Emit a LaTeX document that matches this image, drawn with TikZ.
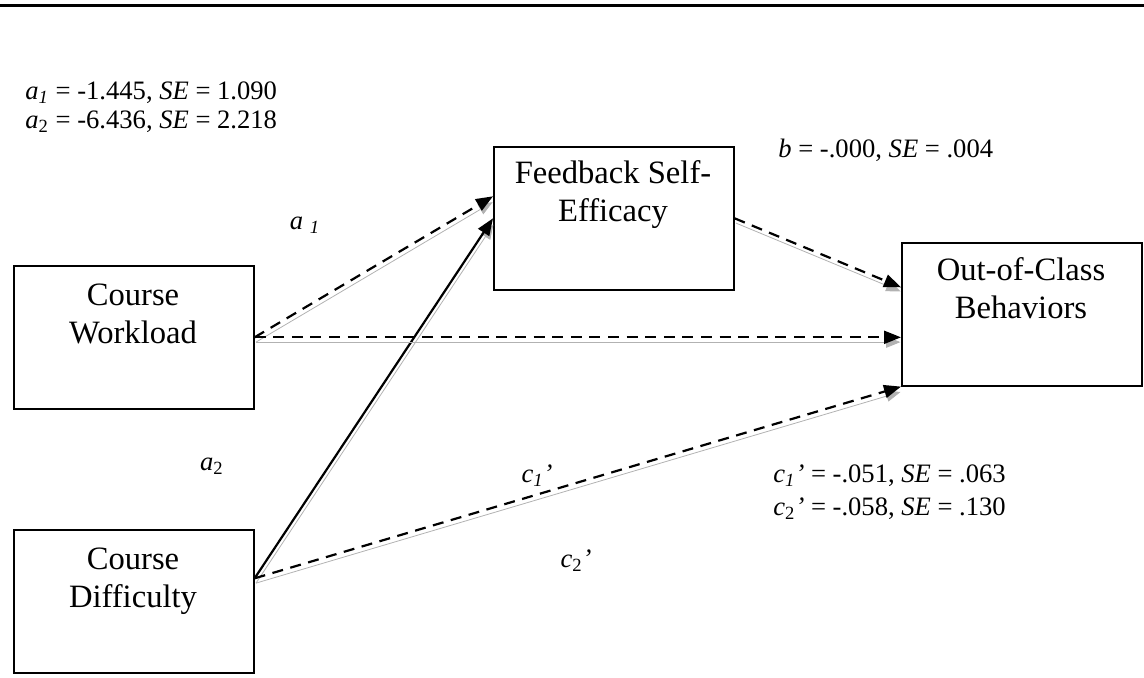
\documentclass[tikz,border=0pt]{standalone}
\usepackage{fontspec}
\setmainfont{Liberation Serif}
\usetikzlibrary{arrows.meta}

\begin{document}
\begin{tikzpicture}[x=0.5pt,y=-0.5pt,
  box/.style={draw=black, line width=0.8pt, minimum width=120pt,
    minimum height=71.5pt, inner sep=0pt, anchor=north west},
  boxtext/.style={align=center, font=\fontsize{16.3}{19}\selectfont,
    inner sep=0pt, anchor=base},
  stat/.style={font=\fontsize{13.3}{14.5}\selectfont, inner sep=0pt,
    anchor=base west},
  pathlbl/.style={font=\fontsize{13.3}{14.5}\selectfont, inner sep=0pt,
    anchor=base},
  shadowed/.style={preaction={draw=black!30,
    transform canvas={shift={(0.7pt,-2.4pt)}}}},
  link/.style={line width=1.1pt, shadowed,
    -{Triangle[length=8.5pt,width=6.5pt]}},
  dashlink/.style={link, dash pattern=on 5.5pt off 3.8pt}
]
\useasboundingbox (0,0) rectangle (1144,677);

% rule across the top
\draw[line width=1.5pt] (0,5.5) -- (1144,5.5);

% variable boxes
\node[box] (wl) at (13,265) {};
\node[box] (dif) at (13,529) {};
\node[box] (fb) at (493,146) {};
\node[box] (oc) at (901,242) {};

% box captions (anchored on the last line's baseline)
\node[boxtext] (wlt) at (133,343) {Course\\Workload};
\node[boxtext] (dift) at (133,607) {Course\\Difficulty};
\node[boxtext] (fbt) at (613,221) {Feedback Self-\\Efficacy};
\node[boxtext] (oct) at (1021,318) {Out-of-Class\\Behaviors};

% paths
\coordinate (wlout) at (wl.east);
\coordinate (difout) at ([yshift=11.5pt]dif.east);
\coordinate (fbin1) at ([yshift=11pt]fb.west);
\coordinate (fbin2) at (fb.west);
\coordinate (ocin1) at ([yshift=13.5pt]oc.west);

\draw[dashlink] (wlout) -- (fbin1);
\draw[link] (difout) -- (fbin2);
\draw[dashlink] (wlout) -- (wlout -| oc.west);
\draw[dashlink] (fb.east) -- (ocin1);
\draw[dashlink] (difout) -- (oc.south west);

% path labels
\node[pathlbl] (la1) at (305,229) {\textit{a \textsubscript{1}}};
\node[pathlbl] (la2) at (212,470) {\textit{a}\textsubscript{2}};
\node[pathlbl] (lc1) at (537,482) {\textit{c\textsubscript{1}’}};
\node[pathlbl] (lc2) at (576,567) {\textit{c}\textsubscript{2}\textit{’}};

% estimates
\node[stat] (sa1) at (25,99) {\textit{a\textsubscript{1}} = -1.445, \textit{SE} = 1.090};
\node[stat] (sa2) at (25,128) {\textit{a}\textsubscript{2} = -6.436, \textit{SE} = 2.218};
\node[stat] (sb) at (778,157) {\textit{b} = -.000, \textit{SE} = .004};
\node[stat] (sc1) at (773,482) {\textit{c\textsubscript{1}’} = -.051, \textit{SE} = .063};
\node[stat] (sc2) at (773,515) {\textit{c}\textsubscript{2}\textit{’} = -.058, \textit{SE} = .130};
\end{tikzpicture}
\end{document}
